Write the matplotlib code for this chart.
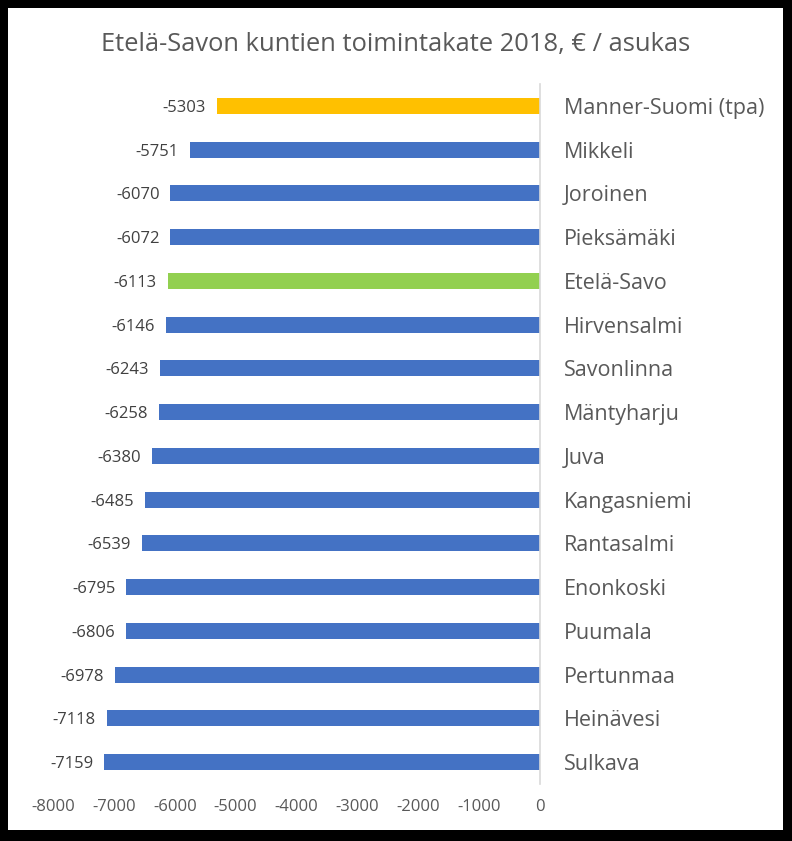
import matplotlib.pyplot as plt
from matplotlib.patches import Rectangle

# Data
kunnat = ['Manner-Suomi (tpa)', 'Mikkeli', 'Joroinen', 'Pieksämäki', 'Etelä-Savo',
          'Hirvensalmi', 'Savonlinna', 'Mäntyharju', 'Juva', 'Kangasniemi',
          'Rantasalmi', 'Enonkoski', 'Puumala', 'Pertunmaa', 'Heinävesi', 'Sulkava']
toimintakate = [-5303, -5751, -6070, -6072, -6113, -6146, -6243, -6258, -6380,
                -6485, -6539, -6795, -6806, -6978, -7118, -7159]
xticks = [-8000, -7000, -6000, -5000, -4000, -3000, -2000, -1000, 0]

plt.rcParams['font.family'] = ['Open Sans', 'DejaVu Sans']

colors = []
for k in kunnat:
    if k == 'Manner-Suomi (tpa)':
        colors.append('#FFC000')
    elif k == 'Etelä-Savo':
        colors.append('#92D050')
    else:
        colors.append('#4472C4')

W, H = 792, 841
fig = plt.figure(figsize=(W / 100, H / 100), dpi=100, facecolor='black')
# white chart area inside the dark frame
fig.patches.append(Rectangle((8 / W, 11 / H), (783 - 8) / W, (833 - 11) / H,
                             transform=fig.transFigure, facecolor='white',
                             edgecolor='none', zorder=-10))

ax = fig.add_axes([53 / W, 1 - 784 / H, (540 - 53) / W, (784 - 84) / H])
ax.set_zorder(1)
ax.set_facecolor('white')

ypos = list(range(len(kunnat)))
ax.barh(ypos, toimintakate, height=0.37, color=colors, zorder=2)
ax.set_xlim(-8000, 0)
ax.set_ylim(len(kunnat) - 0.5, -0.5)

for y, v in zip(ypos, toimintakate):
    ax.text(v - 180, y, str(v), ha='right', va='center_baseline', fontsize=12, color='#404040')

ax.yaxis.tick_right()
ax.set_yticks(ypos)
ax.set_yticklabels(kunnat, fontsize=15.5, color='#595959')
ax.tick_params(axis='y', length=0, pad=17)

ax.set_xticks(xticks)
ax.set_xticklabels([str(t) for t in xticks], fontsize=12, color='#595959')
ax.tick_params(axis='x', length=0, pad=11)

for s in ['top', 'bottom', 'left']:
    ax.spines[s].set_visible(False)
ax.spines['right'].set_color('#d9d9d9')
ax.spines['right'].set_linewidth(1.2)

fig.text(0.5, 1 - 45 / H, 'Etelä-Savon kuntien toimintakate 2018, € / asukas',
         ha='center', va='center', fontsize=18.4, color='#595959')

fig.savefig('out.png', dpi=100, facecolor='black')
